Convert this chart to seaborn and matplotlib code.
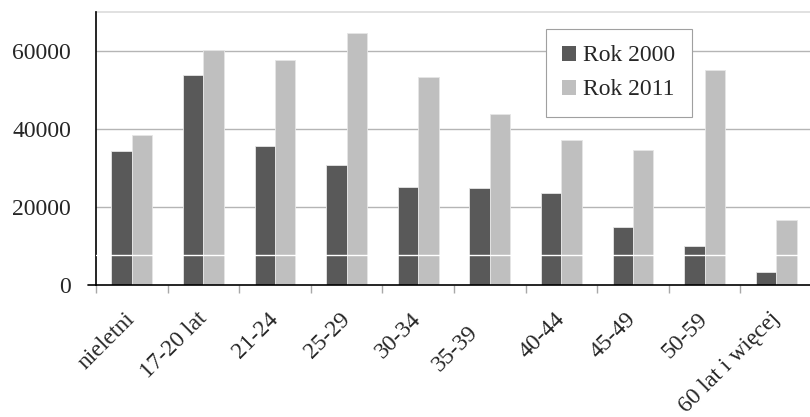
import matplotlib
matplotlib.use("Agg")
import matplotlib.pyplot as plt
import seaborn as sns
import pandas as pd
from matplotlib.lines import Line2D

categories = ["nieletni", "17-20 lat", "21-24", "25-29", "30-34",
              "35-39", "40-44", "45-49", "50-59", "60 lat i więcej"]
rok_2000 = [34500, 53800, 35800, 30700, 25100, 24800, 23600, 15000, 10100, 3500]
rok_2011 = [38500, 60300, 57600, 64500, 53300, 43800, 37300, 34600, 55100, 16700]
series_names = ["Rok 2000", "Rok 2011"]
y_ticks = [0, 20000, 40000, 60000]

sns.set_theme(style="white")
plt.rcParams["font.family"] = ["Liberation Serif", "DejaVu Serif"]

df = pd.DataFrame({
    "kategoria": categories * 2,
    "liczba": rok_2000 + rok_2011,
    "rok": [series_names[0]] * len(categories) + [series_names[1]] * len(categories),
})

fig = plt.figure(figsize=(8.1, 4.17), dpi=100)
ax = fig.add_axes([96 / 810, 131.7 / 417, 716 / 810, 273.3 / 417])

sns.barplot(data=df, x="kategoria", y="liczba", hue="rok", order=categories,
            hue_order=series_names, palette=["#595959", "#bfbfbf"],
            width=0.57, saturation=1, edgecolor="#e6e6e6", linewidth=0.6,
            errorbar=None, ax=ax, zorder=3)

ax.set_xlim(-0.5, 9.5)
ax.set_ylim(0, 70000)
ax.set_xlabel("")
ax.set_ylabel("")

# horizontal grid
for yv in y_ticks[1:]:
    ax.axhline(yv, color="#b5b5b5", lw=1.0, zorder=1)

ax.set_yticks(y_ticks)
ax.set_yticklabels([str(v) for v in y_ticks], fontsize=17)
ax.tick_params(axis="y", length=0, pad=18)

# category boundaries as tick marks
ax.set_xticks(range(len(categories)))
ax.set_xticklabels([""] * len(categories))
ax.tick_params(axis="x", which="major", length=0)
ax.set_xticks([i - 0.5 for i in range(len(categories) + 1)], minor=True)
ax.tick_params(axis="x", which="minor", length=5.5, width=1, color="#a8a8a8",
               direction="out", bottom=True)

# rotated category labels, anchored at their right end under each group
for i, name in enumerate(categories):
    dx, dy = (0, -22)
    if name == "35-39":
        dx, dy = (-11, -32)
    ax.annotate(name, xy=(i, 0), xycoords=("data", "axes fraction"),
                xytext=(dx, dy), textcoords="offset points",
                rotation=45, ha="right", va="center",
                rotation_mode="anchor", fontsize=17, annotation_clip=False)

for side in ["left", "bottom"]:
    ax.spines[side].set_color("black")
    ax.spines[side].set_linewidth(1.2)
    ax.spines[side].set_zorder(4)
ax.spines["right"].set_visible(False)
ax.spines["top"].set_color("#dcdcdc")
ax.spines["top"].set_linewidth(1.2)

# short extension of the base line to the left of the value axis
ax.add_line(Line2D([-8 / 716, 0], [0, 0], transform=ax.transAxes,
                   color="black", lw=1.2, clip_on=False))

# thin white band across the plot
ax.axhline(7760, color="white", lw=1.0, zorder=6)

leg = ax.legend(loc="upper left", bbox_to_anchor=(0.628, 0.938),
                borderaxespad=0, frameon=True, fancybox=False, framealpha=1,
                edgecolor="#a0a0a0", fontsize=17, handlelength=0.6,
                handleheight=0.6, handletextpad=0.3, labelspacing=0.55,
                borderpad=0.7)
leg.get_frame().set_linewidth(0.8)
for h in leg.legend_handles:
    h.set_edgecolor("none")

fig.savefig("out.png", dpi=100)
